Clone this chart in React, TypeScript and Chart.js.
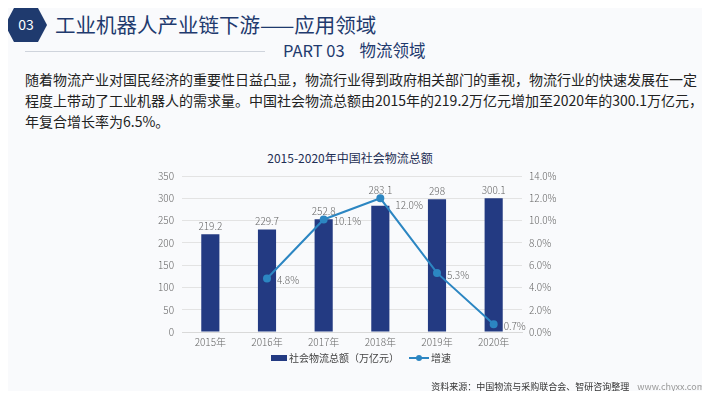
import React, { useEffect, useRef } from "react";
import { Chart, registerables } from "chart.js";

Chart.register(...registerables);

const categories = ["2015年", "2016年", "2017年", "2018年", "2019年", "2020年"];
const totalValues = [219.2, 229.7, 252.8, 283.1, 298, 300.1];
const growthValues: (number | null)[] = [null, 4.8, 10.1, 12.0, 5.3, 0.7];
const leftTicks = [0, 50, 100, 150, 200, 250, 300, 350];
const rightTicks = [0, 2, 4, 6, 8, 10, 12, 14];

const BAR = "#233a82";
const LINE = "#2c86c2";
const FONT = '"Noto Sans CJK SC", "Noto Sans", sans-serif';

const labelPlugin = {
  id: "valueLabels",
  afterDatasetsDraw(chart: any) {
    const ctx = chart.ctx;
    ctx.save();
    ctx.font = `300 10px ${FONT}`;
    ctx.fillStyle = "#666";
    const barMeta = chart.getDatasetMeta(0);
    barMeta.data.forEach((el: any, i: number) => {
      ctx.textAlign = "center";
      ctx.textBaseline = "bottom";
      ctx.fillText(String(totalValues[i]), el.x, el.y - (i === 3 ? 11 : 3));
    });
    const lineMeta = chart.getDatasetMeta(1);
    lineMeta.data.forEach((el: any, i: number) => {
      const v = growthValues[i];
      if (v == null) return;
      const peak = i === 3;
      ctx.textAlign = "left";
      ctx.textBaseline = "middle";
      ctx.fillText(v.toFixed(1) + "%", el.x + (peak ? 15 : 10), el.y + (peak ? 7 : 2));
    });
    ctx.restore();
  },
};

export default function App() {
  const ref = useRef<HTMLCanvasElement>(null);
  useEffect(() => {
    if (!ref.current) return;
    const chart = new Chart(ref.current, {
      type: "bar",
      data: {
        labels: categories,
        datasets: [
          {
            type: "bar",
            label: "社会物流总额（万亿元）",
            data: totalValues,
            backgroundColor: BAR,
            yAxisID: "y",
            barPercentage: 0.4,
            categoryPercentage: 0.8,
            order: 2,
          },
          {
            type: "line",
            label: "增速",
            data: growthValues,
            borderColor: LINE,
            backgroundColor: LINE,
            borderWidth: 2,
            pointRadius: 3,
            pointBackgroundColor: LINE,
            yAxisID: "y1",
            order: 1,
            spanGaps: false,
          },
        ],
      },
      options: {
        animation: false,
        responsive: false,
        layout: { padding: { top: 8, right: 0, left: 0, bottom: 0 } },
        plugins: {
          legend: { display: false },
          title: { display: false },
          tooltip: { enabled: false },
        },
        scales: {
          x: {
            grid: { display: false, drawTicks: false },
            border: { color: "#d9d9d9" },
            ticks: { color: "#666", font: { family: FONT, size: 10, weight: 300 }, padding: 4 },
          },
          y: {
            position: "left",
            min: 0,
            max: 350,
            afterBuildTicks: (s: any) => {
              s.ticks = leftTicks.map((v) => ({ value: v }));
            },
            afterFit: (s: any) => {
              s.width = 52;
            },
            grid: { color: "#e3e3e3", drawTicks: false },
            border: { display: false },
            ticks: { color: "#666", font: { family: FONT, size: 10, weight: 300 }, padding: 8 },
          },
          y1: {
            position: "right",
            min: 0,
            max: 14,
            afterBuildTicks: (s: any) => {
              s.ticks = rightTicks.map((v) => ({ value: v }));
            },
            afterFit: (s: any) => {
              s.width = 48;
            },
            grid: { display: false, drawTicks: false },
            border: { display: false },
            ticks: {
              color: "#666",
              font: { family: FONT, size: 10, weight: 300 },
              padding: 7,
              callback: (v: any) => Number(v).toFixed(1) + "%",
            },
          },
        },
      },
      plugins: [labelPlugin],
    });
    return () => chart.destroy();
  }, []);

  return (
    <div
      style={{
        position: "relative",
        width: 710,
        height: 399,
        margin: -8,
        background: "#f9fafc",
        overflow: "hidden",
        fontFamily: FONT,
      }}
    >
      <svg style={{ position: "absolute", left: 5, top: 8 }} width={42} height={34}>
        <polygon points="9,0 33,0 42,17 33,34 9,34 0,17" fill="#1f3a6e" />
        <text x={21} y={22} textAnchor="middle" fill="#fff" fontSize={14} fontFamily={FONT}>
          03
        </text>
      </svg>
      <div style={{ position: "absolute", left: 55, top: 9, fontSize: 20.5, color: "#1f3a6e", whiteSpace: "nowrap" }}>
        工业机器人产业链下游——应用领域
      </div>
      <div style={{ position: "absolute", left: 25, top: 51, width: 240, height: 1, background: "#cfd4dc" }} />
      <div style={{ position: "absolute", left: 283, top: 38, fontSize: 16.5, color: "#1f3a6e", whiteSpace: "nowrap" }}>
        PART 03&nbsp;&nbsp;&nbsp;&nbsp;物流领域
      </div>
      <div
        style={{
          position: "absolute",
          left: 25,
          top: 69,
          width: 690,
          fontSize: 14,
          lineHeight: "21px",
          color: "#222",
          whiteSpace: "nowrap",
        }}
      >
        随着物流产业对国民经济的重要性日益凸显，物流行业得到政府相关部门的重视，物流行业的快速发展在一定
        <br />
        程度上带动了工业机器人的需求量。中国社会物流总额由2015年的219.2万亿元增加至2020年的300.1万亿元，
        <br />
        年复合增长率为6.5%。
      </div>
      <div
        style={{
          position: "absolute",
          left: 150,
          width: 400,
          top: 149,
          textAlign: "center",
          fontSize: 12,
          color: "#1f2f55",
        }}
      >
        2015-2020年中国社会物流总额
      </div>
      <canvas ref={ref} width={440} height={190} style={{ position: "absolute", left: 130, top: 162 }} />
      <div
        style={{
          position: "absolute",
          left: 0,
          width: 710,
          top: 350,
          display: "flex",
          justifyContent: "center",
          alignItems: "center",
          fontSize: 10,
          color: "#444",
          marginLeft: 6,
        }}
      >
        <span style={{ display: "inline-block", width: 16, height: 6, background: BAR, marginRight: 2 }} />
        <span>社会物流总额（万亿元）</span>
        <span style={{ position: "relative", display: "inline-block", width: 20, height: 8, marginLeft: 10, marginRight: 2 }}>
          <span style={{ position: "absolute", left: 0, top: 3, width: 20, height: 2, background: LINE }} />
          <span style={{ position: "absolute", left: 7, top: 1, width: 6, height: 6, borderRadius: 3, background: LINE }} />
        </span>
        <span>增速</span>
      </div>
      <div style={{ position: "absolute", right: 5, top: 380, fontSize: 9, whiteSpace: "nowrap" }}>
        <span style={{ color: "#333" }}>资料来源：中国物流与采购联合会、智研咨询整理</span>
        <span style={{ color: "#999", marginLeft: 8 }}>www.chyxx.com</span>
      </div>
    </div>
  );
}
